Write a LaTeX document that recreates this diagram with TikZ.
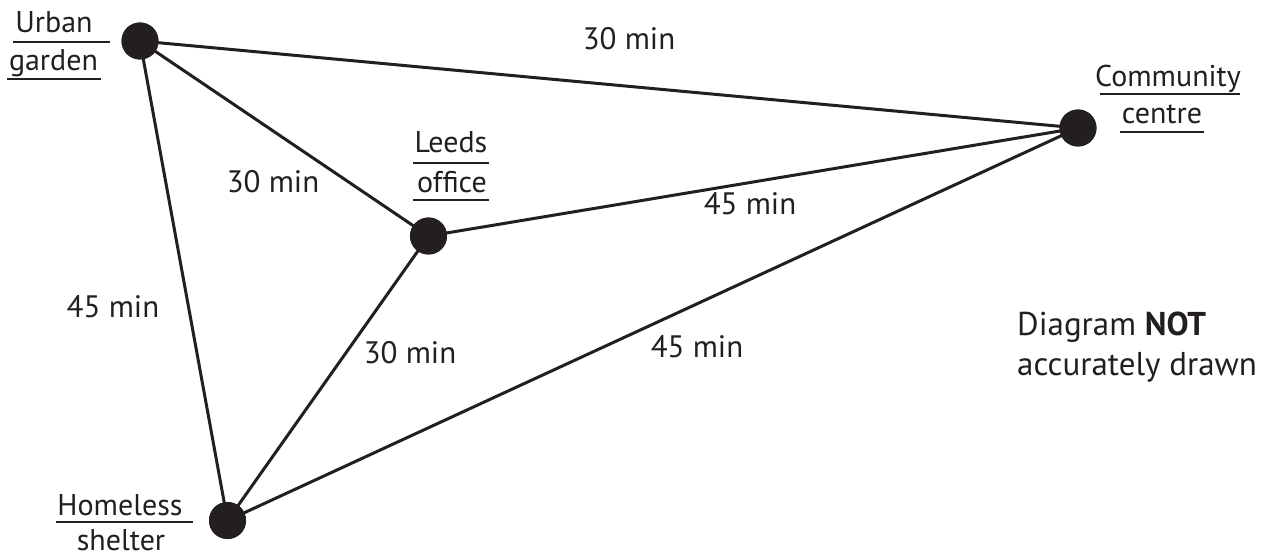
\documentclass[tikz,border=0pt]{standalone}
\usepackage{fontspec}
\setmainfont{PT Sans}
\definecolor{ink}{HTML}{231F20}
\begin{document}
\begin{tikzpicture}[x=1pt,y=-1pt,
  dot/.style={circle,fill=ink,inner sep=0pt,minimum size=37pt},
  edge/.style={draw=ink,line width=3pt},
  place/.style={anchor=base,inner sep=0pt,text=ink,font=\fontsize{30}{35}\selectfont},
  cost/.style={anchor=base,inner sep=0pt,text=ink,font=\fontsize{31}{36}\selectfont},
  rule/.style={draw=ink,line width=1.6pt},
  note/.style={anchor=base west,inner sep=0pt,text=ink,font=\fontsize{33}{38}\selectfont}]
\useasboundingbox (0,0) rectangle (1264,556);
% places
\node[dot] (ug) at (140,41) {};
\node[dot] (cc) at (1078,128) {};
\node[dot] (lo) at (428.5,236) {};
\node[dot] (hs) at (227.5,520.5) {};
% connectors
\draw[edge] (ug.center) -- (cc.center);
\draw[edge] (ug.center) -- (lo.center);
\draw[edge] (ug.center) -- (hs.center);
\draw[edge] (lo.center) -- (cc.center);
\draw[edge] (lo.center) -- (hs.center);
\draw[edge] (hs.center) -- (cc.center);
\node[dot] at (ug) {};
\node[dot] at (cc) {};
\node[dot] at (lo) {};
\node[dot] at (hs) {};
% place labels
\node[place] (ugA) at (54,33) {Urban};
\node[place] (ugB) at (53.5,71) {garden};
\draw[rule] (13,42) -- (110,42);
\draw[rule] (7,79) -- (101,79);
\node[place] (ccA) at (1168,87) {Community};
\node[place] (ccB) at (1162,124) {centre};
\draw[rule] (1100,94) -- (1240,94);
\draw[rule] (1120,132) -- (1204,132);
\node[place] (loA) at (451,153) {Leeds};
\node[place] (loB) at (452,193) {office};
\draw[rule] (413,163) -- (489,163);
\draw[rule] (413,200) -- (489,200);
\node[place] (hsA) at (120,515) {Homeless};
\node[place] (hsB) at (121,550) {shelter};
\draw[rule] (56,522) -- (193,522);
% edge labels
\node[cost] (c1) at (629,50) {30 min};
\node[cost] (c2) at (273,193) {30 min};
\node[cost] (c3) at (750,215) {45 min};
\node[cost] (c4) at (113,317) {45 min};
\node[cost] (c5) at (410,363) {30 min};
\node[cost] (c6) at (697,357) {45 min};
% note
\node[note] (n1) at (1017,335) {Diagram \textbf{NOT}};
\node[note] (n2) at (1017,375) {accurately drawn};
\end{tikzpicture}
\end{document}
